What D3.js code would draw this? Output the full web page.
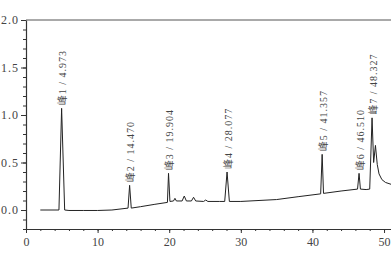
<!DOCTYPE html>
<html>
<head>
<meta charset="utf-8">
<script src="https://cdn.jsdelivr.net/npm/d3@7"></script>
<style>
  body { margin: 0; background: #fff; }
  svg { display: block; }
</style>
</head>
<body>
<div id="chart"></div>
<script>
// Data
const times = [2, 4.6, 4.973, 5.4, 6, 8, 10, 12, 14.25, 14.47, 14.7, 16, 18, 19.75, 19.904, 20.1,
    20.6, 20.8, 21.0, 21.8, 22.1, 22.4, 23.1, 23.4, 23.7, 24.8, 25.1, 25.4, 27, 27.75, 28.077, 28.4,
    30, 35, 38, 41.15, 41.357, 41.55, 44, 46.3, 46.51, 46.7, 47.5, 48.0, 48.327, 48.55, 48.8,
    49.05, 49.3, 49.7, 50.2, 51];
const values = [0, 0, 1.07, 0, -0.005, -0.005, -0.005, 0.0, 0.02, 0.26, 0.02, 0.035, 0.06, 0.08, 0.386, 0.09,
    0.095, 0.123, 0.095, 0.095, 0.147, 0.095, 0.095, 0.134, 0.095, 0.09, 0.105, 0.09, 0.09, 0.09, 0.40, 0.09,
    0.09, 0.11, 0.14, 0.17, 0.586, 0.175, 0.2, 0.22, 0.386, 0.22, 0.215, 0.22, 0.97, 0.5, 0.68,
    0.48, 0.38, 0.32, 0.29, 0.27];
const peakNames = ["峰1", "峰2", "峰3", "峰4", "峰5", "峰6", "峰7"];
const peakTimes = [4.973, 14.470, 19.904, 28.077, 41.357, 46.510, 48.327];
const peakTimeLabels = ["4.973", "14.470", "19.904", "28.077", "41.357", "46.510", "48.327"];
const xTicks = [0, 10, 20, 30, 40, 50];
const yTicks = [0.0, 0.5, 1.0, 1.5, 2.0];

const width = 391, height = 261;
const series = times.map((t, i) => ({t: t, v: values[i]}));

const x = d3.scaleLinear().domain([0, 51]).range([26, 391.2]);
const y = d3.scaleLinear().domain([-0.2, 2.0]).range([229, 20]);

const svg = d3.select("#chart").append("svg")
    .attr("width", width).attr("height", height);

const ink = "#333";
const font = "'Liberation Serif', 'Noto Sans CJK SC', serif";

// top frame line
svg.append("line")
    .attr("x1", x(0)).attr("x2", width)
    .attr("y1", y(2.0)).attr("y2", y(2.0))
    .attr("stroke", "#555").attr("stroke-width", 1);

// y axis minor ticks
const yMinor = d3.range(-2, 21).map(d => d / 10);
svg.append("g")
    .attr("transform", "translate(" + x(0) + ",0)")
    .call(d3.axisLeft(y).tickValues(yMinor).tickSize(3).tickFormat(""))
    .call(g => g.select(".domain").remove())
    .selectAll("line").attr("stroke", ink);

// y axis major
const yAxis = svg.append("g")
    .attr("transform", "translate(" + x(0) + ",0)")
    .call(d3.axisLeft(y).tickValues(yTicks).tickSize(5).tickSizeOuter(0).tickPadding(2)
        .tickFormat(d3.format(".1f")));
yAxis.select(".domain").attr("stroke", ink).attr("stroke-width", 1.2);
yAxis.selectAll("line").attr("stroke", ink);
yAxis.selectAll("text")
    .attr("font-family", font).attr("font-size", 12)
    .attr("letter-spacing", 1).attr("fill", "#444");

// x axis minor ticks
const xMinor = d3.range(0, 52, 2);
svg.append("g")
    .attr("transform", "translate(0," + y(-0.2) + ")")
    .call(d3.axisBottom(x).tickValues(xMinor).tickSize(2).tickFormat(""))
    .call(g => g.select(".domain").remove())
    .selectAll("line").attr("stroke", ink);

// x axis major
const xAxis = svg.append("g")
    .attr("transform", "translate(0," + y(-0.2) + ")")
    .call(d3.axisBottom(x).tickValues(xTicks).tickSize(4).tickSizeOuter(0).tickPadding(4));
xAxis.select(".domain").attr("stroke", ink).attr("stroke-width", 1.2);
xAxis.selectAll("line").attr("stroke", ink);
xAxis.selectAll("text")
    .attr("font-family", font).attr("font-size", 12).attr("fill", "#444");

// trace
const line = d3.line()
    .x(d => x(d.t))
    .y(d => y(d.v));

svg.append("path")
    .datum(series)
    .attr("fill", "none")
    .attr("stroke", "#222")
    .attr("stroke-width", 1)
    .attr("stroke-linejoin", "round")
    .attr("d", line);

// peak labels
peakNames.forEach((name, i) => {
    const top = series.find(d => d.t === peakTimes[i]).v;
    const px = x(peakTimes[i]) + 1, py = y(top) - 3;
    svg.append("text")
        .attr("transform", "translate(" + px + "," + py + ") rotate(-90)")
        .attr("dominant-baseline", "central")
        .attr("font-family", font)
        .attr("font-size", 10)
        .attr("letter-spacing", 1)
        .attr("fill", "#444")
        .text(name + " / " + peakTimeLabels[i]);
});
</script>
</body>
</html>
